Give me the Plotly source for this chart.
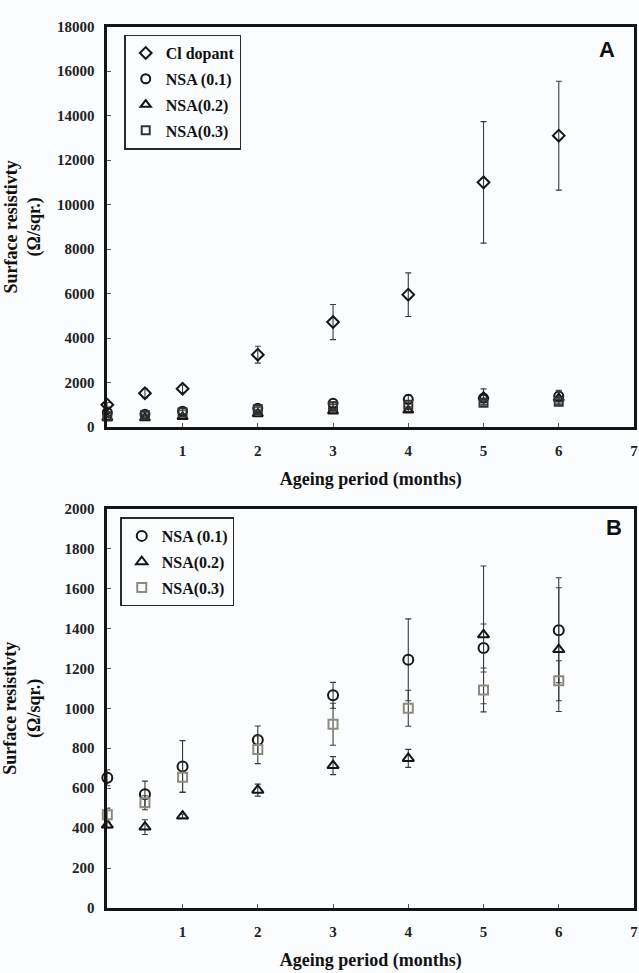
import plotly.graph_objects as go

# ---------------- data ----------------
months = [0, 0.5, 1, 2, 3, 4, 5, 6]

cl_dopant = [1000, 1520, 1720, 3250, 4720, 5950, 11000, 13100]
cl_dopant_err = [100, 200, 170, 380, 790, 980, 2730, 2450]

nsa_01 = [652, 570, 708, 841, 1065, 1243, 1302, 1391]
nsa_01_err = [40, 65, 130, 70, 65, 205, 120, 263]

nsa_02 = [415, 405, 460, 590, 713, 749, 1368, 1294]
nsa_02_err = [15, 37, 10, 30, 45, 45, 345, 310]

nsa_03 = [467, 527, 655, 793, 920, 1000, 1092, 1138]
nsa_03_err = [33, 35, 75, 70, 105, 90, 110, 100]

x_ticks = [1, 2, 3, 4, 5, 6, 7]

# ---------------- style ----------------
W, H = 639, 973
SERIF = "Liberation Serif"
INK = "#151515"
ERR = "#3a3a3a"
SQ_B = "#8e8a7c"
BG = "#fbfcfd"


def px_x(p):
    return p / W


def px_y(p):
    return 1 - p / H


def err(vals):
    return dict(type="data", array=vals, visible=True, color=ERR, thickness=1.1, width=3)


def trace(name, y, e, symbol, color, xa, ya, legend, size=9):
    return go.Scatter(
        x=months, y=y, name=name, mode="markers",
        xaxis=xa, yaxis=ya, legend=legend, legendgroup=legend + name,
        error_y=err(e), cliponaxis=False,
        marker=dict(symbol=symbol, size=size, color=color, line=dict(width=2, color=color)),
    )


fig = go.Figure()
# Panel A
fig.add_trace(trace("Cl dopant", cl_dopant, cl_dopant_err, "diamond-open", INK, "x", "y", "legend", 9))
fig.add_trace(trace("NSA (0.1)", nsa_01, nsa_01_err, "circle-open", INK, "x", "y", "legend", 9))
fig.add_trace(trace("NSA(0.2)", nsa_02, nsa_02_err, "triangle-up-open", INK, "x", "y", "legend", 9))
fig.add_trace(trace("NSA(0.3)", nsa_03, nsa_03_err, "square-open", "#333333", "x", "y", "legend", 8))
# Panel B
fig.add_trace(trace("NSA (0.1)", nsa_01, nsa_01_err, "circle-open", INK, "x2", "y2", "legend2", 10))
fig.add_trace(trace("NSA(0.2)", nsa_02, nsa_02_err, "triangle-up-open", INK, "x2", "y2", "legend2", 10))
fig.add_trace(trace("NSA(0.3)", nsa_03, nsa_03_err, "square-open", SQ_B, "x2", "y2", "legend2", 9))

tickfont = dict(family=SERIF, size=15, color="#222222", weight="bold")
titlefont = dict(family=SERIF, size=18, color="#111111", weight="bold")

xcommon = dict(
    range=[0, 7], tickvals=x_ticks, showline=True, linewidth=2.5, linecolor=INK,
    mirror=True, ticks="inside", ticklen=4, tickwidth=1, tickcolor="#555",
    showgrid=False, zeroline=False, tickfont=tickfont, ticklabelstandoff=8,
    ticklabeloverflow="allow",
    title=dict(text="Ageing period (months)", font=titlefont, standoff=15),
)


def ycommon(standoff):
    return dict(
        showline=True, linewidth=2.5, linecolor=INK, mirror=True,
        ticks="inside", ticklen=4, tickwidth=1, tickcolor="#555",
        showgrid=False, zeroline=False, tickfont=tickfont, ticklabelstandoff=7,
        tickformat="d",
        title=dict(text="Surface resistivty<br>(Ω/sqr.)", font=titlefont, standoff=standoff),
    )


legend_common = dict(
    xanchor="left", yanchor="top", bgcolor=BG, bordercolor="#2a2a2a", borderwidth=1.5,
    font=dict(family=SERIF, size=16, color="#111", weight="bold"),
    itemwidth=30, tracegroupgap=2,
)

fig.update_layout(
    width=W, height=H, margin=dict(l=0, r=0, t=0, b=0),
    paper_bgcolor=BG, plot_bgcolor=BG, showlegend=True,
    xaxis=dict(domain=[px_x(108), px_x(638)], anchor="y", **xcommon),
    yaxis=dict(domain=[px_y(426), px_y(19)], anchor="x", range=[0, 18000], dtick=2000, **ycommon(12)),
    xaxis2=dict(domain=[px_x(108), px_x(638)], anchor="y2", **xcommon),
    yaxis2=dict(domain=[px_y(915), px_y(509)], anchor="x2", range=[0, 2000], dtick=200, **ycommon(20)),
    legend=dict(x=px_x(125), y=px_y(27), **legend_common),
    legend2=dict(x=px_x(121), y=px_y(518), **legend_common),
    annotations=[
        dict(text="A", x=px_x(611), y=px_y(42), xref="paper", yref="paper", showarrow=False,
             xanchor="center", yanchor="middle",
             font=dict(family="Liberation Sans", size=22, color="#111", weight="bold")),
        dict(text="B", x=px_x(618), y=px_y(528), xref="paper", yref="paper", showarrow=False,
             xanchor="center", yanchor="middle",
             font=dict(family="Liberation Sans", size=22, color="#111", weight="bold")),
    ],
)

fig.write_html("out.html")
